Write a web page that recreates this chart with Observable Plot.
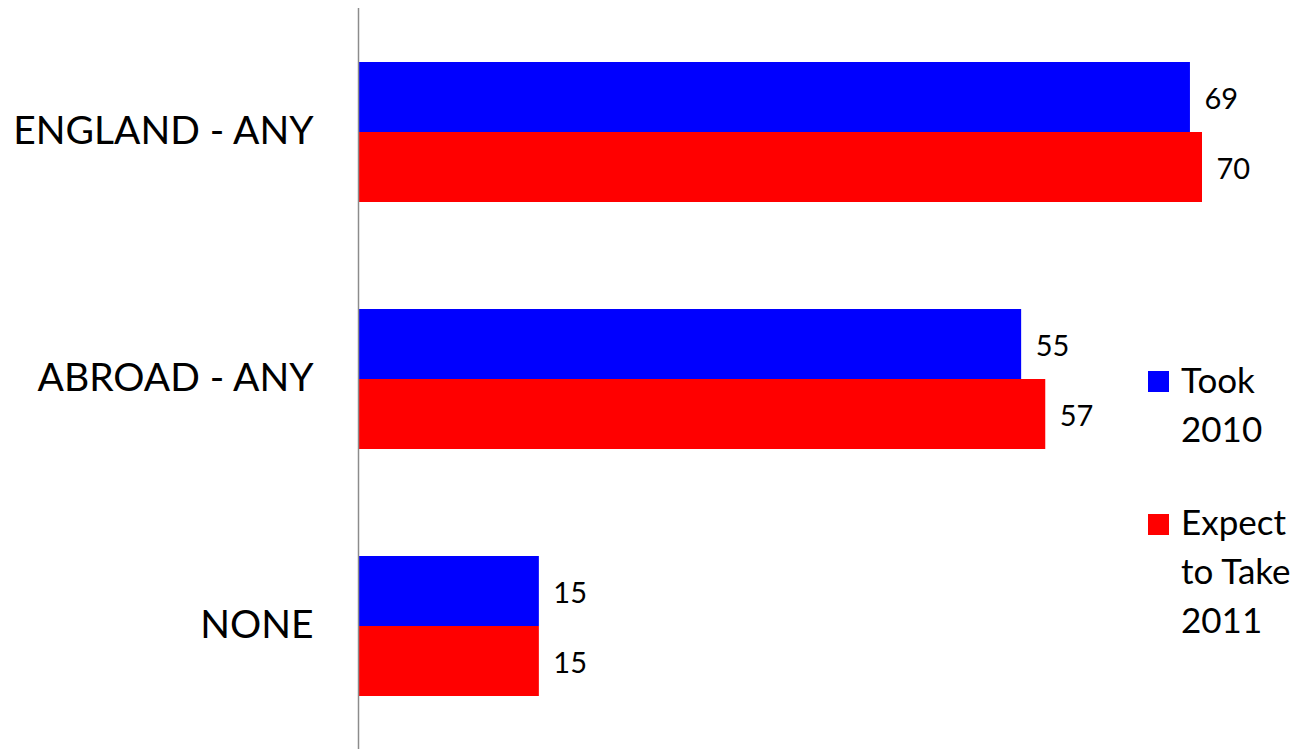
<!DOCTYPE html>
<html>
<head>
<meta charset="utf-8">
<script src="https://cdn.jsdelivr.net/npm/d3@7"></script>
<script src="https://cdn.jsdelivr.net/npm/@observablehq/plot@0.6"></script>
<style>
  html, body { margin: 0; padding: 0; background: #fff; }
  #chart { position: relative; width: 1301px; height: 750px; }
</style>
</head>
<body>
<div id="chart"></div>
<script>
const categories = ["ENGLAND - ANY", "ABROAD - ANY", "NONE"];
const series = ["Took 2010", "Expect to Take 2011"];
const legendLines = [["Took", "2010"], ["Expect", "to Take", "2011"]];
const took2010 = [69, 55, 15];
const expect2011 = [70, 57, 15];
const colors = ["#0000ff", "#ff0000"];

const data = [];
categories.forEach((c, i) => {
  data.push({cat: c, series: series[0], value: took2010[i]});
  data.push({cat: c, series: series[1], value: expect2011[i]});
});

const chart = Plot.plot({
  width: 1301,
  height: 750,
  marginLeft: 358,
  marginRight: 99,
  marginTop: 7,
  marginBottom: 0,
  style: {fontFamily: "Lato", color: "#000", background: "#fff"},
  x: {domain: [0, 70], axis: null},
  y: {domain: series, axis: null, paddingInner: 0, paddingOuter: 0.757},
  fy: {domain: categories, padding: 0, label: null},
  color: {domain: series, range: colors},
  marks: [
    Plot.barX(data, {x: "value", y: "series", fy: "cat", fill: "series"}),
    Plot.text(data, {x: "value", y: "series", fy: "cat", text: d => String(d.value), dx: 14, dy: 2, textAnchor: "start", fontSize: 29, fill: "#000"}),
    Plot.ruleX([0], {stroke: "#8c8c8c", strokeWidth: 1.5}),
    Plot.axisFy({anchor: "left", tickSize: 0, tickPadding: 45, fontSize: 39, label: null})
  ]
});
document.getElementById("chart").appendChild(chart);

// Legend
const svg = d3.select(chart);
const legendItems = [
  {color: colors[0], lines: legendLines[0], top: 371, baseline: 393},
  {color: colors[1], lines: legendLines[1], top: 514, baseline: 535}
];
const lg = svg.append("g").attr("font-family", "Lato").attr("font-size", 35)
  .attr("fill", "#000").attr("text-anchor", "start");
legendItems.forEach(item => {
  lg.append("rect").attr("x", 1148).attr("y", item.top).attr("width", 21).attr("height", 21).attr("fill", item.color);
  item.lines.forEach((t, j) => {
    lg.append("text").attr("x", 1181).attr("y", item.baseline + j * 49).attr("text-anchor", "start").text(t);
  });
});
</script>
</body>
</html>
